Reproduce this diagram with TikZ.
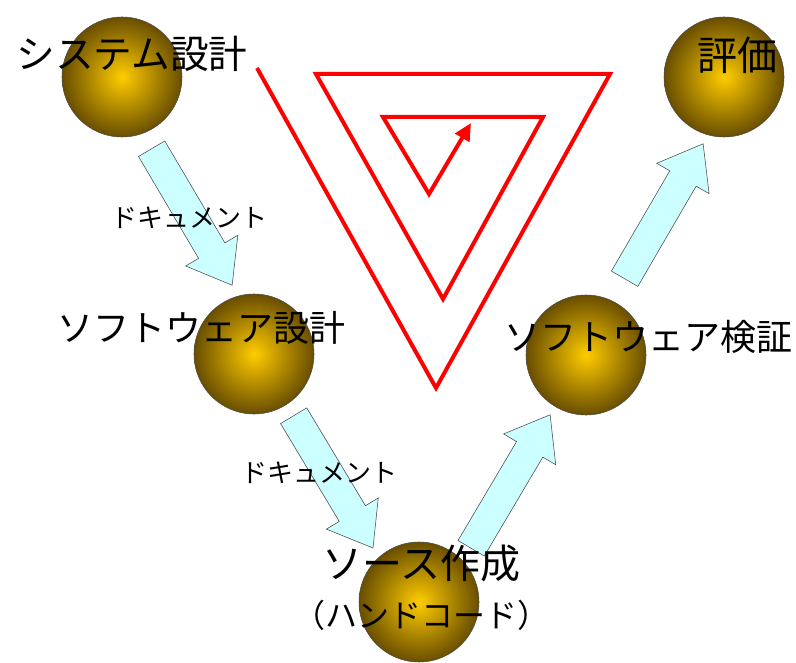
\documentclass[tikz,border=0pt]{standalone}
\usepackage{fontspec}
\setmainfont{Noto Sans CJK JP}
\usetikzlibrary{arrows.meta,calc,positioning,shapes.arrows}
\definecolor{BallGold}{RGB}{255,204,0}
\definecolor{BallRim}{RGB}{105,78,0}
\definecolor{FlowCyan}{RGB}{204,255,255}
\definecolor{FlowEdge}{RGB}{70,70,70}
\definecolor{SpiralRed}{RGB}{255,0,0}

\begin{document}
\begin{tikzpicture}[x=0.75pt,y=-0.75pt,>=Latex]
\tikzstyle{ball}=[circle,draw=black!70,thin,minimum size=90pt,inner sep=0pt,inner color=BallGold,outer color=BallRim]
\tikzstyle{flow}=[single arrow,draw=FlowEdge,fill=FlowCyan,thin,inner sep=0pt,text height=22.5pt,text depth=0pt,single arrow head extend=11.25pt,single arrow tip angle=74,anchor=tail]
\tikzstyle{tag}=[inner sep=0pt,text=black]
\useasboundingbox (0,0) rectangle (796,663);
% spiral
\draw[SpiralRed,line width=3pt,line join=miter,-{Triangle[length=13pt,width=12pt]}]
  (257,68) -- (436,388) -- (610,74) -- (316,74) -- (443,299)
  -- (543,117) -- (383,117) -- (429,194) -- (471,123);
% balls
\node[ball] (sys) at (122,77) {};
\node[ball] (swd) at (254,354) {};
\node[ball] (src) at (419,602) {};
\node[ball] (swv) at (586,355) {};
\node[ball] (eval) at (724,77) {};
% flow arrows
\coordinate (f1) at (151.5,148.5); \coordinate (t1) at (232,285);
\coordinate (f2) at (293.5,415.5); \coordinate (t2) at (373,548);
\coordinate (f3) at (471,548.5);   \coordinate (t3) at (550,415);
\coordinate (f4) at (624.5,279);   \coordinate (t4) at (703,144);
\foreach \a/\b in {f1/t1,f2/t2,f3/t3,f4/t4}
  \path let \p1=($(\b)-(\a)$) in
    node[flow,minimum height={veclen(\x1,\y1)},rotate={atan2(\y1,\x1)}] at (\a) {};
% labels
\node[tag,font=\fontsize{29}{29}\selectfont] (syslbl) at (132,54) {システム設計};
\node[tag,font=\fontsize{27}{27}\selectfont] (swdlbl) at (201,328) {ソフトウェア設計};
\node[tag,font=\fontsize{27}{27}\selectfont] (swvlbl) at (648,337) {ソフトウェア検証};
\node[tag,font=\fontsize{30}{30}\selectfont] (evallbl) at (737,55) {評価};
\node[tag,font=\fontsize{30}{30}\selectfont] (srclbl) at (421,563) {ソース作成};
\node[tag,font=\fontsize{24}{24}\selectfont] (hndlbl) at (421,615) {（ハンドコード）};
\node[tag,font=\fontsize{19.5}{19.5}\selectfont] (doc1) at (189,218) {ドキュメント};
\node[tag,font=\fontsize{19.5}{19.5}\selectfont] (doc2) at (319,473) {ドキュメント};
\end{tikzpicture}
\end{document}
